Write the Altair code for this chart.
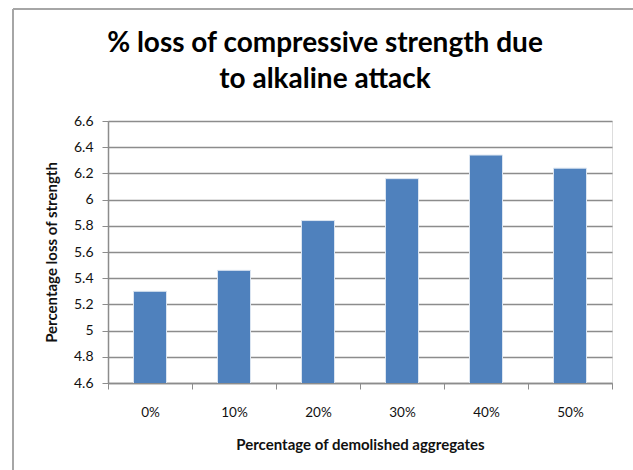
import altair as alt
import pandas as pd

# Replacement level of demolished aggregates and the resulting strength loss
replacement = ["0%", "10%", "20%", "30%", "40%", "50%"]
loss_pct = [5.30, 5.46, 5.84, 6.16, 6.34, 6.24]
y_ticks = [4.6, 4.8, 5.0, 5.2, 5.4, 5.6, 5.8, 6.0, 6.2, 6.4, 6.6]
title_lines = ["% loss of compressive strength due", "to alkaline attack"]

df = pd.DataFrame({"replacement": replacement, "loss": loss_pct})
one_row = pd.DataFrame({"k": [0]})

FONT = "Lato"
GRID = "#8c8c8c"
BAR = "#4F81BD"
FRAME = "#a6a6a6"
TEXT = "#111111"

PLOT_W, PLOT_H = 504, 262
PAD = {"left": 108, "top": 121, "right": 633 - 108 - PLOT_W, "bottom": 470 - 121 - PLOT_H}

bars = alt.Chart(df).mark_bar(
    width=33, color=BAR, stroke="#dbe5f1", strokeWidth=1, clip=True
).encode(
    x=alt.X(
        "replacement:N",
        sort=replacement,
        scale=alt.Scale(paddingInner=0, paddingOuter=0),
        axis=alt.Axis(
            title="Percentage of demolished aggregates",
            titleFont=FONT, titleFontSize=15, titleFontWeight="bold",
            titleColor=TEXT, titlePadding=19,
            labelFont=FONT, labelFontSize=13.5, labelColor=TEXT,
            labelAngle=0, labelPadding=16,
            tickBand="extent", tickSize=6, tickColor=GRID,
            domainColor=GRID, domainWidth=1.5, grid=False,
        ),
    ),
    y=alt.Y(
        "loss:Q",
        scale=alt.Scale(domain=[4.6, 6.6], nice=False, zero=False),
        axis=alt.Axis(
            title="Percentage loss of strength",
            titleFont=FONT, titleFontSize=15, titleFontWeight="bold",
            titleColor=TEXT, titlePadding=14,
            values=y_ticks, format="~g",
            labelFont=FONT, labelFontSize=14, labelColor=TEXT,
            labelPadding=9,
            tickSize=6, tickColor=GRID,
            domainColor=GRID, domainWidth=1.5,
            grid=True, gridColor=GRID, gridWidth=1.5,
        ),
    ),
)

# Two-line chart heading, centred over the figure
heading = alt.Chart(one_row).mark_text(
    text=title_lines, font=FONT, fontSize=28, fontWeight="bold",
    color="#000000", align="center", baseline="alphabetic", lineHeight=36,
).encode(x=alt.value(217), y=alt.value(-69))

# Outer chart frame (left and top edges)
frame_left = alt.Chart(one_row).mark_rule(color=FRAME, strokeWidth=2).encode(
    x=alt.value(-95), y=alt.value(-112), y2=alt.value(PLOT_H + PAD["bottom"])
)
frame_top = alt.Chart(one_row).mark_rule(color=FRAME, strokeWidth=2).encode(
    x=alt.value(-95), x2=alt.value(PLOT_W + PAD["right"]), y=alt.value(-112)
)

chart = alt.layer(bars, heading, frame_left, frame_top).properties(
    width=PLOT_W,
    height=PLOT_H,
    autosize=alt.AutoSizeParams(type="none"),
    padding=PAD,
).configure_view(stroke=None).configure(background="white")

chart.save("out.html", embed_options={"renderer": "svg", "actions": False})
